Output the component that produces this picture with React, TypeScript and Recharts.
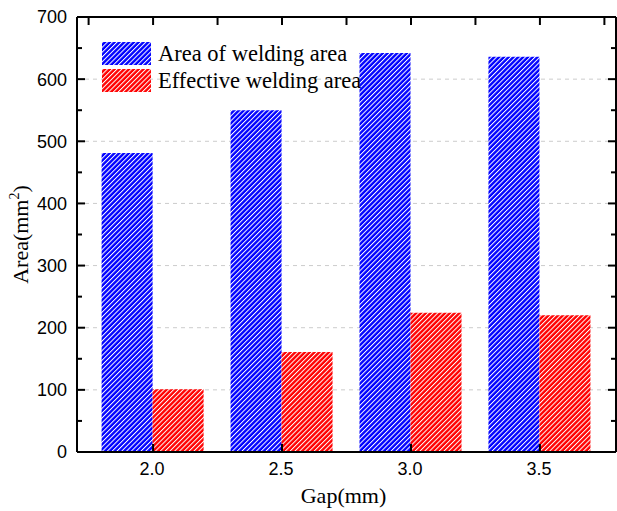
import { Bar, BarChart, CartesianGrid, Legend, XAxis, YAxis } from "recharts";

const gaps = [2.0, 2.5, 3.0, 3.5];
const weldingArea = [481, 550, 642, 636];
const effectiveArea = [101, 161, 224, 220];

const xTicks = [2.0, 2.5, 3.0, 3.5];
const topTicks = [1.75, 2.0, 2.25, 2.5, 2.75, 3.0, 3.25, 3.5, 3.75];
const yTicks = [0, 50, 100, 150, 200, 250, 300, 350, 400, 450, 500, 550, 600, 650, 700];
const gridValues = [100, 200, 300, 400, 500, 600];

const data = gaps.map((gap, i) => ({
  gap,
  welding: weldingArea[i],
  effective: effectiveArea[i],
}));

const SANS = "'Liberation Sans', Arial, sans-serif";
const SERIF = "'Liberation Serif', 'Times New Roman', serif";

function LeftTick({ x, y, payload }: any) {
  const major = payload.value % 100 === 0;
  return (
    <g>
      <line x1={x} y1={y} x2={x + (major ? 8 : 5)} y2={y} stroke="#000" strokeWidth={2} />
      {major && (
        <text x={x - 10} y={y} dy="0.36em" textAnchor="end" fontSize={18} fontFamily={SANS} fill="#000">
          {payload.value}
        </text>
      )}
    </g>
  );
}

function RightTick({ x, y, payload }: any) {
  const major = payload.value % 100 === 0;
  return <line x1={x - (major ? 8 : 5)} y1={y} x2={x} y2={y} stroke="#000" strokeWidth={2} />;
}

function BottomTick({ x, y, payload }: any) {
  return (
    <g>
      <line x1={x} y1={y} x2={x} y2={y - 8} stroke="#000" strokeWidth={2} />
      <text x={x - 1} y={y + 23} textAnchor="middle" fontSize={18} fontFamily={SANS} fill="#000">
        {payload.value.toFixed(1)}
      </text>
    </g>
  );
}

function TopTick({ x, y }: any) {
  return <line x1={x} y1={y} x2={x} y2={y + 8} stroke="#000" strokeWidth={2} />;
}

function YLabel({ viewBox }: any) {
  const cx = 28;
  const cy = viewBox.y + viewBox.height / 2;
  return (
    <text
      x={cx}
      y={cy}
      transform={`rotate(-90 ${cx} ${cy})`}
      textAnchor="middle"
      fontSize={22}
      fontFamily={SERIF}
      fill="#000"
    >
      Area(mm
      <tspan dy={-9} fontSize={14}>2</tspan>
      <tspan dy={9}>)</tspan>
    </text>
  );
}

function XLabel({ viewBox }: any) {
  return (
    <text
      x={viewBox.x + viewBox.width / 2 - 3}
      y={503}
      textAnchor="middle"
      fontSize={22}
      fontFamily={SERIF}
      fill="#000"
    >
      Gap(mm)
    </text>
  );
}

function HatchLegend({ payload }: any) {
  return (
    <svg width={300} height={52} style={{ display: "block", overflow: "visible" }}>
      {(payload ?? []).map((entry: any, i: number) => (
        <g key={entry.value} transform={`translate(0, ${i * 27})`}>
          <rect x={0} y={0} width={49} height={23} fill={entry.color} />
          <text x={56} y={19} fontSize={22.5} fontFamily={SERIF} fill="#000">
            {entry.value}
          </text>
        </g>
      ))}
    </svg>
  );
}

export default function App() {
  return (
    <div style={{ position: "absolute", left: 0, top: 0 }}>
      <BarChart
        width={617}
        height={511}
        data={data}
        margin={{ top: 16, right: 0, bottom: 0, left: 0 }}
        barGap={0}
        barSize={51}
      >
        <defs>
          <pattern id="hatchBlue" patternUnits="userSpaceOnUse" width={3.4} height={3.4} patternTransform="rotate(45)">
            <rect width={3.4} height={3.4} fill="#0000ff" />
            <line x1={0.5} y1={0} x2={0.5} y2={3.4} stroke="#fff" strokeWidth={1} />
          </pattern>
          <pattern id="hatchRed" patternUnits="userSpaceOnUse" width={3.4} height={3.4} patternTransform="rotate(45)">
            <rect width={3.4} height={3.4} fill="#ff0000" />
            <line x1={0.5} y1={0} x2={0.5} y2={3.4} stroke="#fff" strokeWidth={1} />
          </pattern>
        </defs>
        <CartesianGrid
          vertical={false}
          horizontalValues={gridValues}
          stroke="#cccccc"
          strokeDasharray="4 4"
        />
        <XAxis
          dataKey="gap"
          type="number"
          domain={[1.705, 3.795]}
          allowDataOverflow
          ticks={xTicks}
          interval={0}
          height={59}
          tickSize={0}
          tickMargin={0}
          tickLine={false}
          tick={<BottomTick />}
          axisLine={{ stroke: "#000", strokeWidth: 2 }}
          label={(props: any) => <XLabel {...props} />}
        />
        <XAxis
          xAxisId="top"
          orientation="top"
          dataKey="gap"
          type="number"
          domain={[1.705, 3.795]}
          allowDataOverflow
          ticks={topTicks}
          interval={0}
          height={1}
          tickSize={0}
          tickMargin={0}
          tickLine={false}
          tick={<TopTick />}
          axisLine={{ stroke: "#000", strokeWidth: 2 }}
        />
        <YAxis
          type="number"
          domain={[0, 700]}
          allowDataOverflow
          ticks={yTicks}
          interval={0}
          width={77}
          tickSize={0}
          tickMargin={0}
          tickLine={false}
          tick={<LeftTick />}
          axisLine={{ stroke: "#000", strokeWidth: 2 }}
          label={(props: any) => <YLabel {...props} />}
        />
        <YAxis
          yAxisId="right"
          orientation="right"
          type="number"
          domain={[0, 700]}
          allowDataOverflow
          ticks={yTicks}
          interval={0}
          width={1}
          tickSize={0}
          tickMargin={0}
          tickLine={false}
          tick={<RightTick />}
          axisLine={{ stroke: "#000", strokeWidth: 2 }}
        />
        <Legend
          layout="vertical"
          align="center"
          verticalAlign="middle"
          wrapperStyle={{ left: 102, top: 42, width: 300 }}
          content={(props: any) => <HatchLegend {...props} />}
        />
        <Bar dataKey="welding" name="Area of welding area" fill="url(#hatchBlue)" isAnimationActive={false} />
        <Bar dataKey="effective" name="Effective welding area" fill="url(#hatchRed)" isAnimationActive={false} />
      </BarChart>
    </div>
  );
}
